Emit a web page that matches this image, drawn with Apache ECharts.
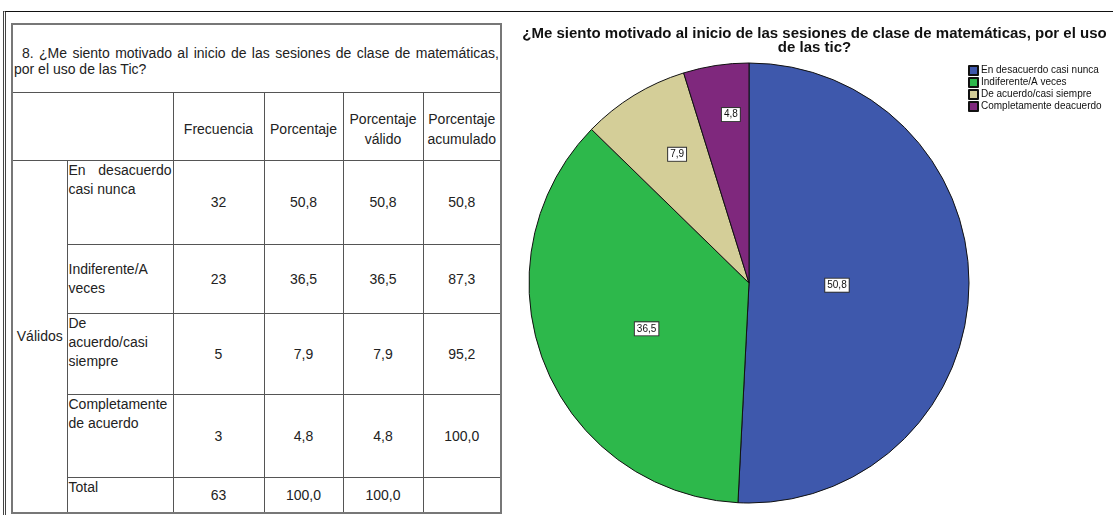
<!DOCTYPE html>
<html>
<head>
<meta charset="utf-8">
<title>Motivación por el uso de las TIC</title>
<script src="https://cdn.jsdelivr.net/npm/echarts@6.0.0/dist/echarts.min.js"></script>
<style>
    html, body { margin: 0; padding: 0; background: #fff; }
    body {
        width: 1113px; height: 515px; position: relative; overflow: hidden;
        font-family: "Liberation Sans", Arial, sans-serif;
    }
    #marco {
        position: absolute; left: 3px; top: 11px; width: 1110px; height: 504px;
        border-top: 1px solid #111; border-left: 3px double #444; box-sizing: border-box;
    }
    #tabla {
        position: absolute; left: 11px; top: 23px;
        border-collapse: collapse; table-layout: fixed;
        font-size: 14px; color: #222; border: 2px solid #777;
    }
    #tabla td { border: 1px solid #555; padding: 0 1px; overflow: hidden; }
    #tabla td.titulo { vertical-align: middle; line-height: 16px; text-indent: 8px; padding-top: 6px; text-align: justify; }
    #tabla td.cab { text-align: center; vertical-align: middle; line-height: 20px; padding-top: 6px; }
    #tabla td.num { text-align: center; vertical-align: middle; }
    #tabla td.etq { line-height: 19px; white-space: pre-line; text-align: justify; }
    #tabla td.grupo { text-align: center; vertical-align: middle; }
    #main { position: absolute; left: 516px; top: 0; width: 597px; height: 515px; }
</style>
</head>
<body>
<div id="marco"></div>
<table id="tabla"></table>
<div id="main"></div>
<script>
    // datos de la tabla de frecuencias
    const leyenda = ['En desacuerdo casi nunca', 'Indiferente/A veces', 'De acuerdo/casi siempre', 'Completamente deacuerdo'];
    const filas = ['En desacuerdo casi nunca', 'Indiferente/A\nveces', 'De\nacuerdo/casi\nsiempre', 'Completamente\nde acuerdo'];
    const frecuencia = [32, 23, 5, 3];
    const porcentaje = [50.8, 36.5, 7.9, 4.8];
    const valido = [50.8, 36.5, 7.9, 4.8];
    const acumulado = [50.8, 87.3, 95.2, 100.0];
    const colores = ['#3e58ac', '#2db84b', '#d4ce98', '#7f287d'];

    const coma = v => v.toFixed(1).replace('.', ',');
    const suma = a => a.reduce((s, v) => s + v, 0);

    // tabla (izquierda)
    const anchos = [55, 106, 91, 79, 80, 78];
    const altos = [84, 69, 81, 83];
    const alinear = ['top', 'middle', 'top', 'top'];
    let html = '<colgroup>' + anchos.map(w => `<col style="width:${w}px">`).join('') + '</colgroup>';
    html += '<tr style="height:68px"><td class="titulo" colspan="6">8. ¿Me siento motivado al inicio de las sesiones de clase de matemáticas, por el uso de las Tic?</td></tr>';
    html += '<tr style="height:68px"><td colspan="2"></td><td class="cab">Frecuencia</td><td class="cab">Porcentaje</td>' +
            '<td class="cab">Porcentaje<br>válido</td><td class="cab">Porcentaje<br>acumulado</td></tr>';
    filas.forEach((f, i) => {
        html += `<tr style="height:${altos[i]}px">`;
        if (i === 0) html += '<td class="grupo" rowspan="5">Válidos</td>';
        html += `<td class="etq" style="vertical-align:${alinear[i]}">${f}</td>` +
                `<td class="num">${frecuencia[i]}</td><td class="num">${coma(porcentaje[i])}</td>` +
                `<td class="num">${coma(valido[i])}</td><td class="num">${coma(acumulado[i])}</td></tr>`;
    });
    html += '<tr style="height:36px"><td class="etq" style="vertical-align:top">Total</td>' +
            `<td class="num">${suma(frecuencia)}</td><td class="num">${coma(suma(porcentaje))}</td>` +
            `<td class="num">${coma(suma(valido))}</td><td class="num"></td></tr>`;
    document.getElementById('tabla').innerHTML = html;

    // gráfico de sectores (derecha)
    const CX = 233, CY = 283, R = 220;
    // posición de las etiquetas: fracción del radio y desvío angular (grados)
    const radioEtiqueta = [0.4, 0.51, 0.67, 0.77];
    const giroEtiqueta = [0, -2.7, 2.3, 2.5];
    const total = suma(porcentaje);
    const angMedio = porcentaje.map((v, i) => (suma(porcentaje.slice(0, i)) + v / 2) / total * 360);

    const chart = echarts.init(document.getElementById('main'));
    chart.setOption({
        animation: false,
        color: colores,
        title: {
            text: '¿Me siento motivado al inicio de las sesiones de clase de matemáticas, por el uso\nde las tic?',
            left: 'center',
            top: 27,
            padding: 0,
            textStyle: {
                fontFamily: 'Liberation Sans',
                fontSize: 15,
                fontWeight: 'bold',
                color: '#111',
                lineHeight: 14
            }
        },
        legend: {
            orient: 'vertical',
            left: 452,
            top: 65,
            padding: 0,
            itemWidth: 9,
            itemHeight: 9,
            itemGap: 1,
            icon: 'rect',
            data: leyenda,
            textStyle: { fontFamily: 'Liberation Sans', fontSize: 10, color: '#111', padding: [0, 0, 0, -2] }
        },
        series: [{
            type: 'pie',
            center: [CX, CY],
            radius: R,
            startAngle: 90,
            clockwise: true,
            avoidLabelOverlap: false,
            itemStyle: { borderColor: '#111', borderWidth: 1 },
            emphasis: { disabled: true },
            label: {
                show: true,
                position: 'inside',
                formatter: p => coma(p.value),
                fontFamily: 'Liberation Sans',
                fontSize: 10,
                color: '#111',
                backgroundColor: '#fff',
                borderColor: '#333',
                borderWidth: 1,
                padding: [2, 2, 1, 2]
            },
            labelLine: { show: false },
            labelLayout: function (params) {
                const i = params.dataIndex;
                const a = (angMedio[i] + giroEtiqueta[i]) * Math.PI / 180;
                const d = radioEtiqueta[i] * R;
                return {
                    x: CX + d * Math.sin(a),
                    y: CY - d * Math.cos(a),
                    align: 'center',
                    verticalAlign: 'middle'
                };
            },
            data: leyenda.map((n, i) => ({ name: n, value: porcentaje[i] }))
        }]
    });
</script>
</body>
</html>
